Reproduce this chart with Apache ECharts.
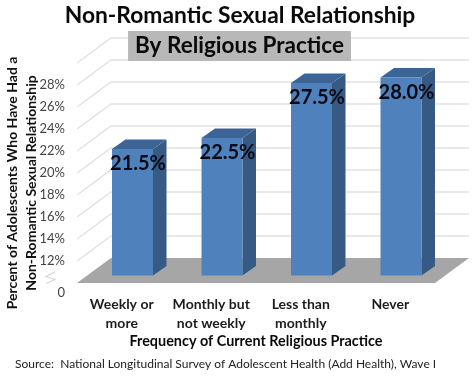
<!DOCTYPE html>
<html>

<head>
    <meta charset="UTF-8">
    <title>Non-Romantic Sexual Relationship</title>
    <script src="https://cdn.jsdelivr.net/npm/echarts@6/dist/echarts.min.js"></script>
    <style type="text/css">
        html,
        body {
            margin: 0px;
            padding: 0px;
            background: #ffffff;
        }

        #chart {
            width: 474px;
            height: 376px;
        }
    </style>
</head>

<body>
    <div id="chart"></div>
    <script>
        var categories = ['Weekly or\nmore', 'Monthly but\nnot weekly', 'Less than\nmonthly', 'Never'];
        var values = [21.5, 22.5, 27.5, 28.0];
        var gridTicks = [12, 14, 16, 18, 20, 22, 24, 26, 28, 30];

        var fontName = 'Lato';
        // the axis is broken: the floor sits at 10 but is labelled 0
        var axisFloor = 10;

        // depth of the fake 3D box, and of the bars inside it
        var wallDx = 34, wallDy = -25;
        var barDx = 10.75, barDy = -7.5;
        var sideDx = 13.5, sideDy = -9.5;
        var barWidth = 41;

        function renderWall(params, api) {
            var cs = params.coordSys;
            var y = api.coord([0, api.value(0)])[1];
            var color = '#e2e2e2';
            return {
                type: 'group',
                silent: true,
                children: [{
                    type: 'polyline',
                    shape: { points: [[cs.x, y], [cs.x + wallDx, y + wallDy], [cs.x + cs.width + wallDx, y + wallDy]] },
                    style: { stroke: color, lineWidth: 1.5, fill: null }
                }]
            };
        }

        function renderFloor(params, api) {
            var cs = params.coordSys;
            var y = api.coord([0, axisFloor])[1];
            return {
                type: 'group',
                silent: true,
                children: [{
                    type: 'polygon',
                    shape: {
                        points: [
                            [cs.x, y],
                            [cs.x + cs.width, y],
                            [cs.x + cs.width + wallDx, y + wallDy],
                            [cs.x + wallDx, y + wallDy]
                        ]
                    },
                    style: { fill: '#a6a6a6' }
                }, {
                    // axis break mark above the 0 label
                    type: 'polyline',
                    shape: {
                        points: [
                            [cs.x - 22, y - 11],
                            [cs.x - 31, y - 6.5],
                            [cs.x - 22, y - 3.5],
                            [cs.x - 31, y + 0.5]
                        ]
                    },
                    style: { stroke: '#d6d6d6', lineWidth: 1.2, fill: null }
                }]
            };
        }

        function renderBar(params, api) {
            var top = api.coord([api.value(0), api.value(1)]);
            var bottom = api.coord([api.value(0), axisFloor]);
            var x0 = top[0] + barDx - barWidth / 2;
            var x1 = x0 + barWidth;
            var y0 = top[1] + barDy;
            var y1 = bottom[1] + barDy;
            return {
                type: 'group',
                children: [{
                    type: 'polygon',
                    shape: { points: [[x1, y0], [x1 + sideDx, y0 + sideDy], [x1 + sideDx, y1 + sideDy], [x1, y1]] },
                    style: { fill: '#375a85' }
                }, {
                    type: 'polygon',
                    shape: { points: [[x0, y0], [x0 + sideDx, y0 + sideDy], [x1 + sideDx, y0 + sideDy], [x1, y0]] },
                    style: { fill: '#3c6496' }
                }, {
                    type: 'rect',
                    shape: { x: x0, y: y0, width: barWidth, height: y1 - y0 },
                    style: { fill: '#4f81bd' }
                }, {
                    type: 'text',
                    x: x0 + barWidth / 2 + 5.5,
                    y: y0 + 15,
                    style: {
                        text: api.value(1).toFixed(1) + '%',
                        font: 'bold 20px ' + fontName,
                        fill: '#0a0a14',
                        align: 'center',
                        verticalAlign: 'middle'
                    }
                }]
            };
        }

        var chart = echarts.init(document.getElementById('chart'), null, { renderer: 'canvas' });

        chart.setOption({
            backgroundColor: '#ffffff',
            animation: false,
            title: [{
                text: 'Non-Romantic Sexual Relationship',
                left: 235,
                top: -1,
                textAlign: 'center',
                textStyle: { fontFamily: fontName, fontSize: 22.8, fontWeight: 'bold', color: '#0a0a0a' }
            }, {
                text: 'By Religious Practice',
                left: 232.5,
                top: 31,
                textAlign: 'center',
                backgroundColor: '#b8b8b8',
                padding: [3, 7, 4, 7],
                textStyle: { fontFamily: fontName, fontSize: 22.5, fontWeight: 'bold', color: '#0a0a0a' }
            }, {
                text: 'Source:  National Longitudinal Survey of Adolescent Health (Add Health), Wave I',
                left: 15,
                top: 358,
                padding: 0,
                textStyle: { fontFamily: fontName, fontSize: 12, fontWeight: 'normal', color: '#222222' }
            }],
            grid: { left: 77, right: 39, top: 63, bottom: 93, outerBoundsMode: 'none' },
            xAxis: {
                type: 'category',
                data: categories,
                axisLine: { show: false },
                axisTick: { show: false },
                axisLabel: {
                    margin: 12,
                    interval: 0,
                    lineHeight: 19,
                    fontFamily: fontName,
                    fontSize: 14,
                    fontWeight: 'bold',
                    color: '#1c1c1c'
                },
                name: 'Frequency of Current Religious Practice',
                nameLocation: 'middle',
                nameGap: 51,
                nameMoveOverlap: false,
                nameTextStyle: { fontFamily: fontName, fontSize: 14.4, fontWeight: 'bold', color: '#0a0a0a' }
            },
            yAxis: {
                type: 'value',
                min: axisFloor,
                max: 30,
                interval: 2,
                splitLine: { show: false },
                axisLine: { show: false },
                axisTick: { show: false },
                axisLabel: {
                    margin: 12,
                    fontFamily: fontName,
                    fontSize: 13,
                    color: '#444444',
                    showMaxLabel: false,
                    formatter: function (v) {
                        return v === axisFloor ? '{zero|0}' : v + '%';
                    },
                    rich: {
                        zero: { fontFamily: fontName, fontSize: 13, color: '#444444', padding: [20, 0, 0, 0] }
                    }
                },
                name: 'Percent of Adolescents Who Have Had a\nNon-Romantic Sexual Relationship',
                nameLocation: 'middle',
                nameGap: 36,
                nameMoveOverlap: false,
                nameTextStyle: {
                    fontFamily: fontName,
                    fontSize: 14,
                    fontWeight: 'bold',
                    lineHeight: 19,
                    color: '#111111',
                    padding: [0, 20, 0, 0]
                }
            },
            series: [{
                type: 'custom',
                name: 'wall',
                renderItem: renderWall,
                encode: { y: 0 },
                data: gridTicks.map(function (t) { return [t]; }),
                z: 1
            }, {
                type: 'custom',
                name: 'floor',
                renderItem: renderFloor,
                data: [[axisFloor]],
                encode: { y: 0 },
                z: 2
            }, {
                type: 'custom',
                name: 'bars',
                renderItem: renderBar,
                data: values.map(function (v, i) { return [i, v]; }),
                encode: { x: 0, y: 1 },
                z: 3
            }]
        });
    </script>
</body>

</html>
